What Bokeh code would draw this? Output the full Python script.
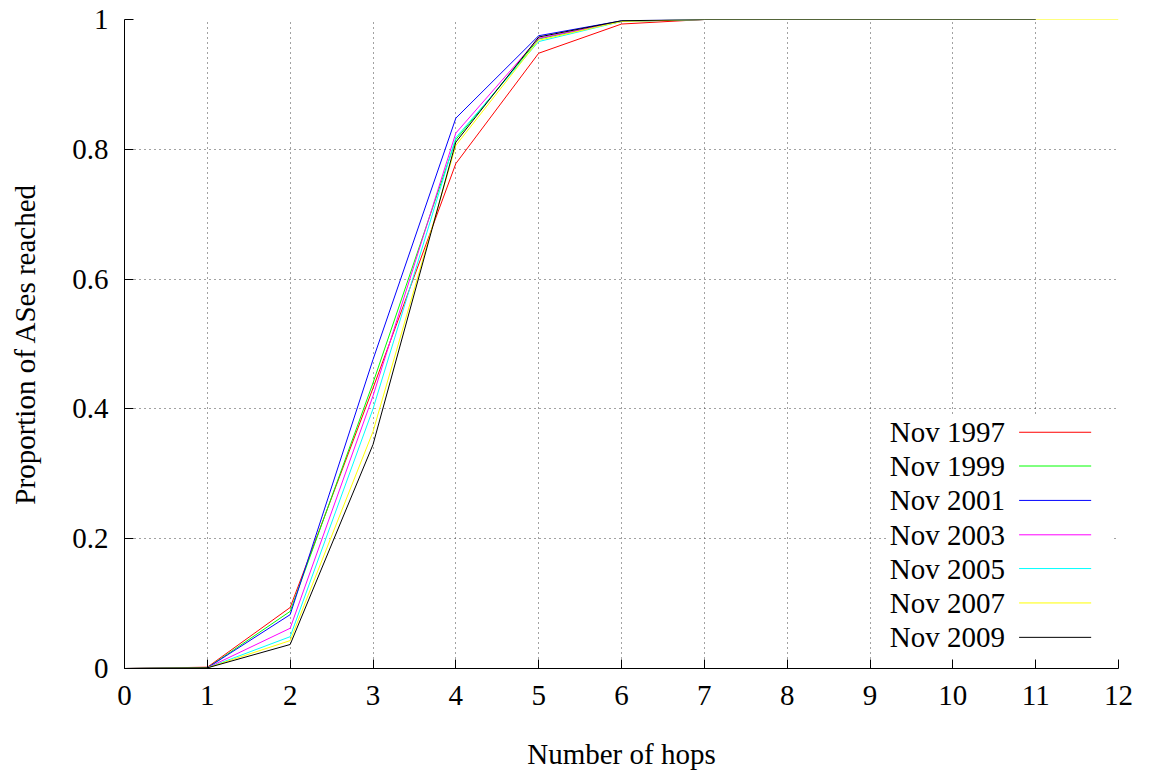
from bokeh.plotting import figure
from bokeh.models import FixedTicker, Range1d
from bokeh.core.properties import value
from bokeh.embed import file_html
from bokeh.resources import INLINE

# Proportion of ASes reached within a given number of hops
hops = list(range(13))

nov_1997 = [0.0, 0.002, 0.094, 0.432, 0.778, 0.948, 0.993, 1.0, 1.0, 1.0, 1.0, 1.0]
nov_1999 = [0.0, 0.001, 0.088, 0.440, 0.815, 0.970, 0.997, 1.0, 1.0, 1.0, 1.0, 1.0]
nov_2001 = [0.0, 0.001, 0.083, 0.476, 0.848, 0.975, 0.998, 1.0, 1.0, 1.0, 1.0, 1.0]
nov_2003 = [0.0, 0.001, 0.062, 0.420, 0.825, 0.971, 0.997, 1.0, 1.0, 1.0, 1.0, 1.0]
nov_2005 = [0.0, 0.001, 0.049, 0.400, 0.818, 0.966, 0.997, 1.0, 1.0, 1.0, 1.0, 1.0]
nov_2007 = [0.0, 0.001, 0.043, 0.365, 0.806, 0.968, 0.997, 1.0, 1.0, 1.0, 1.0, 1.0, 1.0]
nov_2009 = [0.0, 0.001, 0.037, 0.345, 0.811, 0.973, 0.998, 1.0, 1.0, 1.0, 1.0, 1.0]

labels = ["Nov 1997", "Nov 1999", "Nov 2001", "Nov 2003", "Nov 2005", "Nov 2007", "Nov 2009"]
series = [nov_1997, nov_1999, nov_2001, nov_2003, nov_2005, nov_2007, nov_2009]
colors = ["#ff0000", "#00ff00", "#0000ff", "#ff00ff", "#00ffff", "#ffff00", "#000000"]

x_ticks = list(range(13))
y_ticks = [0, 0.2, 0.4, 0.6, 0.8, 1.0]
y_tick_labels = ["0", "0.2", "0.4", "0.6", "0.8", "1"]

FONT = "Liberation Serif"
SIZE = "29px"

p = figure(width=1153, height=772, output_backend="svg", toolbar_location=None,
           x_range=Range1d(0, 12), y_range=Range1d(0, 1),
           min_border_left=124, min_border_right=35, min_border_top=19, min_border_bottom=103)
p.outline_line_color = None
p.background_fill_color = "white"
p.border_fill_color = "white"

for ax in (p.xaxis[0], p.yaxis[0]):
    ax.axis_line_color = "black"
    ax.axis_line_width = 1
    ax.major_tick_in = 9
    ax.major_tick_out = 0
    ax.minor_tick_line_color = None
    ax.major_tick_line_color = "black"
    ax.major_label_text_font = FONT
    ax.major_label_text_font_size = SIZE
    ax.major_label_text_color = "black"
    ax.axis_label_text_font = FONT
    ax.axis_label_text_font_size = SIZE
    ax.axis_label_text_font_style = "normal"
    ax.axis_label_text_color = "black"

p.xaxis.ticker = FixedTicker(ticks=x_ticks)
p.yaxis.ticker = FixedTicker(ticks=y_ticks)
p.yaxis.major_label_overrides = {t: s for t, s in zip(y_ticks, y_tick_labels)}
p.xaxis.axis_label = "Number of hops"
p.yaxis.axis_label = "Proportion of ASes reached"
p.xaxis.major_label_standoff = 17
p.yaxis.major_label_standoff = 16
p.xaxis.axis_label_standoff = 30
p.yaxis.axis_label_standoff = 28

for g in (p.xgrid[0], p.ygrid[0]):
    g.grid_line_color = "#444444"
    g.grid_line_dash = "1 4"
    g.grid_line_width = 1

for vals, col in zip(series, colors):
    p.line(hops[:len(vals)], vals, line_color=col, line_width=1)

# key: opaque box with labels on the left and line samples on the right
key_y = [0.364, 0.312, 0.259, 0.206, 0.154, 0.101, 0.048]
p.quad(left=[9.2], right=[11.91], bottom=[0.014], top=[0.389],
       fill_color="white", line_color=None)
p.text(x=[10.63] * len(labels), y=key_y, text=labels,
       text_align="right", text_baseline="middle",
       text_font=value(FONT), text_font_size=SIZE, text_color="black")
p.segment(x0=[10.80] * len(labels), x1=[11.67] * len(labels), y0=key_y, y1=key_y,
          line_color=colors, line_width=1)

open("out.html", "w").write(file_html(p, INLINE))
